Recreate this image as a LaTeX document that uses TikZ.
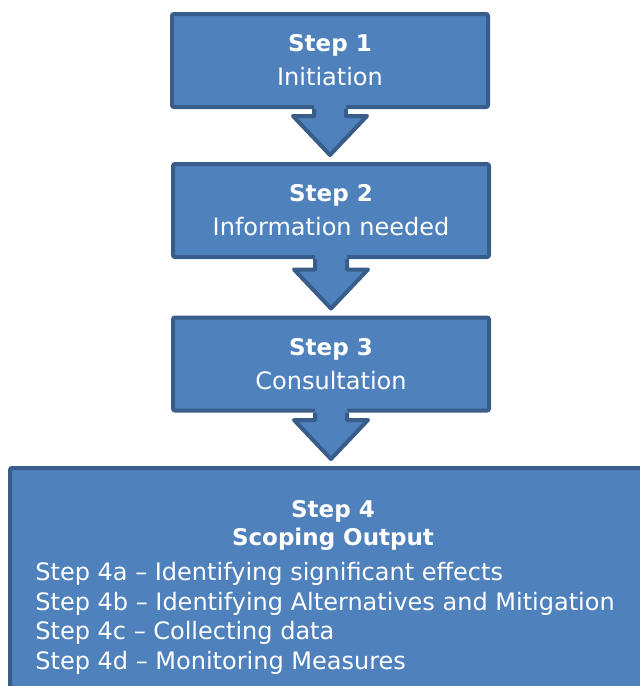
\documentclass[tikz,border=0pt]{standalone}
\usepackage{fontspec}
\setmainfont{DejaVu Sans}
\usepackage{tikz}
\usetikzlibrary{positioning,calc}

\definecolor{boxfill}{HTML}{4F81BD}
\definecolor{boxline}{HTML}{385D8A}

\begin{document}
\begin{tikzpicture}[x=0.5pt,y=-0.5pt]
\tikzset{basic/.style={draw=boxline,fill=boxfill,line width=2pt,rounded corners=1pt}}
\tikzset{kuang/.style={basic, rectangle, minimum width=158pt, minimum height=46.5pt,
  text=white, align=center, font=\fontsize{12}{17}\selectfont}}
\tikzset{dakuang/.style={basic, rectangle, minimum width=323pt, minimum height=130pt}}
\tikzset{zi/.style={text=white, inner sep=0pt, font=\fontsize{12}{14.75}\selectfont}}
\tikzset{jian/.style={fill=boxfill}}
\tikzset{xian/.style={draw=boxline,line width=2pt,line join=round}}

\useasboundingbox (0,0) rectangle (640,686);
\clip (0,0) rectangle (640,686);

\node[kuang](s1)at(330,60.5){{\fontsize{11.5}{17}\selectfont\bfseries Step 1}\\Initiation};
\node[kuang](s2)at(331,210.5){{\fontsize{11.5}{17}\selectfont\bfseries Step 2}\\Information needed};
\node[kuang](s3)at(331,364){{\fontsize{11.5}{17}\selectfont\bfseries Step 3}\\Consultation};
\node[dakuang](s4)at(333,598){};

\node[zi, align=center, font=\fontsize{11.5}{14}\selectfont\bfseries](t4)at(333,525){Step 4\\Scoping Output};
\node[zi, align=left, anchor=north west](l4)at(35,562){Step 4a -- Identifying significant effects\\
Step 4b -- Identifying Alternatives and Mitigation\\
Step 4c -- Collecting data\\
Step 4d -- Monitoring Measures};

% block arrows between the steps
\foreach \a/\b in {s1/s2,s2/s3,s3/s4}{
  \fill[jian] ($(\a.south)+(-16,-5)$) -- ($(\a.south |- \b.north)+(-16,-46)$)
    -- ($(\a.south |- \b.north)+(-37,-46)$) -- ($(\a.south |- \b.north)+(0,-7)$)
    -- ($(\a.south |- \b.north)+(37,-46)$) -- ($(\a.south |- \b.north)+(16,-46)$)
    -- ($(\a.south)+(16,-5)$) -- cycle;
  \draw[xian] ($(\a.south)+(-16,0)$) -- ($(\a.south |- \b.north)+(-16,-46)$)
    -- ($(\a.south |- \b.north)+(-37,-46)$) -- ($(\a.south |- \b.north)+(0,-7)$)
    -- ($(\a.south |- \b.north)+(37,-46)$) -- ($(\a.south |- \b.north)+(16,-46)$)
    -- ($(\a.south)+(16,0)$);
}
\end{tikzpicture}
\end{document}
